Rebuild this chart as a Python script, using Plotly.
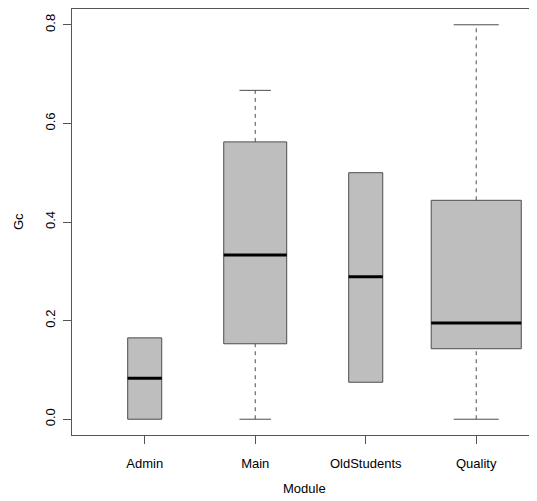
import plotly.graph_objects as go

modules = ["Admin", "Main", "OldStudents", "Quality"]
lower_whisker = [0.0, 0.0, 0.075, 0.0]
q1 = [0.0, 0.153, 0.075, 0.143]
median = [0.083, 0.333, 0.289, 0.195]
q3 = [0.165, 0.5625, 0.5, 0.444]
upper_whisker = [0.165, 0.667, 0.5, 0.8]
positions = [1, 2, 3, 4]

# style: box widths (varwidth-like)
box_widths = [0.308, 0.57, 0.308, 0.815]

FILL = "#BEBEBE"
OUTLINE = "#4d4d4d"
FONT = "Liberation Sans, Arial, sans-serif"

fig = go.Figure()

for i, m in enumerate(modules):
    p = positions[i]
    w = box_widths[i]
    fig.add_trace(go.Box(
        x=[p], q1=[q1[i]], median=[median[i]], q3=[q3[i]],
        lowerfence=[q1[i]], upperfence=[q3[i]],
        width=w, fillcolor=FILL, line=dict(color=OUTLINE, width=1),
        whiskerwidth=0, boxpoints=False, name=m, showlegend=False,
        hoverinfo="skip",
    ))
    if upper_whisker[i] > q3[i]:
        fig.add_trace(go.Scatter(x=[p, p], y=[q3[i], upper_whisker[i]], mode="lines",
                                 line=dict(color=OUTLINE, width=1, dash="4px,4px"),
                                 showlegend=False, hoverinfo="skip"))
        fig.add_trace(go.Scatter(x=[p - w / 4, p + w / 4], y=[upper_whisker[i]] * 2, mode="lines",
                                 line=dict(color=OUTLINE, width=1),
                                 showlegend=False, hoverinfo="skip"))
    if lower_whisker[i] < q1[i]:
        fig.add_trace(go.Scatter(x=[p, p], y=[lower_whisker[i], q1[i]], mode="lines",
                                 line=dict(color=OUTLINE, width=1, dash="4px,4px"),
                                 showlegend=False, hoverinfo="skip"))
        fig.add_trace(go.Scatter(x=[p - w / 4, p + w / 4], y=[lower_whisker[i]] * 2, mode="lines",
                                 line=dict(color=OUTLINE, width=1),
                                 showlegend=False, hoverinfo="skip"))
    fig.add_trace(go.Scatter(x=[p - w / 2, p + w / 2], y=[median[i]] * 2, mode="lines",
                             line=dict(color="black", width=3),
                             showlegend=False, hoverinfo="skip"))

# page has 8px body margin, so compensate
fig.update_layout(
    width=529, height=493,
    margin=dict(l=64, r=0, t=1, b=66),
    paper_bgcolor="white", plot_bgcolor="white",
    font=dict(family=FONT, size=13, color="black"),
    showlegend=False,
)
fig.update_xaxes(
    range=[0.342, 4.55], tickvals=positions, ticktext=modules,
    showline=True, linecolor="#555", linewidth=1, mirror=True,
    ticks="outside", ticklen=8, tickcolor="#555", showgrid=False, zeroline=False,
    ticklabelstandoff=8, automargin=False,
)
fig.update_yaxes(
    range=[-0.032, 0.832], tickvals=[0, 0.2, 0.4, 0.6, 0.8],
    ticktext=["0.0", "0.2", "0.4", "0.6", "0.8"], tickangle=-90,
    showline=True, linecolor="#555", linewidth=1, mirror=False,
    ticks="outside", ticklen=8, tickcolor="#555", showgrid=False, zeroline=False,
    ticklabelstandoff=3, automargin=False,
)
fig.add_annotation(text="Module", xref="paper", yref="paper", x=0.5, y=0,
                   yanchor="middle", yshift=-53, showarrow=False, font=dict(size=13))
fig.add_annotation(text="Gc", xref="paper", yref="paper", x=0, y=0.5,
                   xanchor="center", yanchor="middle", xshift=-54, showarrow=False,
                   textangle=-90, font=dict(size=13))

fig.write_html("out.html")
